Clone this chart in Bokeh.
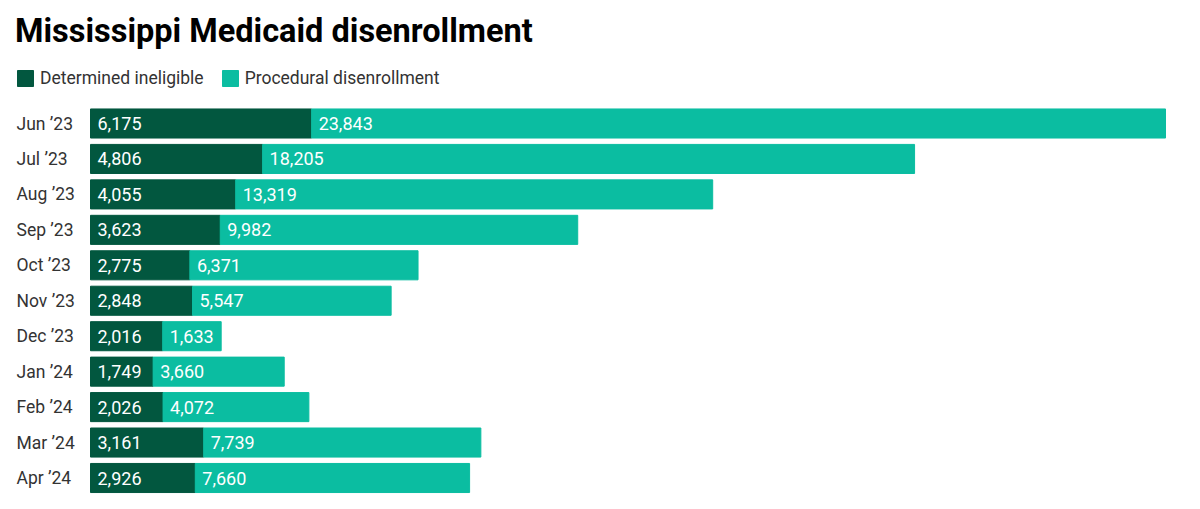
from bokeh.plotting import figure
from bokeh.models import Range1d, Legend, LegendItem, Label
from bokeh.core.properties import value
from bokeh.embed import file_html
from bokeh.resources import INLINE

# data
months = ["Jun ’23", "Jul ’23", "Aug ’23", "Sep ’23", "Oct ’23", "Nov ’23",
          "Dec ’23", "Jan ’24", "Feb ’24", "Mar ’24", "Apr ’24"]
ineligible = [6175, 4806, 4055, 3623, 2775, 2848, 2016, 1749, 2026, 3161, 2926]
procedural = [23843, 18205, 13319, 9982, 6371, 5547, 1633, 3660, 4072, 7739, 7660]

dark = "#02573f"
teal = "#0bbda1"
font = "Roboto"

W, H = 1200, 509
bar_left, bar_right = 90, 1165      # px where 0 and the largest total sit
row_px, top_row_px = 35.45, 123     # row pitch and centre of first row, px

n = len(months)
totals = [a + b for a, b in zip(ineligible, procedural)]
rows = list(range(n - 1, -1, -1))   # first month on top

per_px = max(totals) / (bar_right - bar_left)
x_range = Range1d(-bar_left * per_px, (W - bar_left) * per_px)
y_range = Range1d(n - 1 - (H - top_row_px) / row_px, n - 1 + top_row_px / row_px)

p = figure(width=W, height=H, x_range=x_range, y_range=y_range,
           x_axis_location=None, y_axis_location=None,
           output_backend="svg", toolbar_location=None, min_border=0)

data = dict(row=rows, month=months, ineligible=ineligible, procedural=procedural,
            ineligible_lbl=[f"{v:,}" for v in ineligible],
            procedural_lbl=[f"{v:,}" for v in procedural],
            zero=[0] * n)

r = p.hbar_stack(["ineligible", "procedural"], y="row", height=0.82,
                 color=[dark, teal], source=data)

# month labels, left aligned
p.text(x="zero", y="row", text="month", source=data,
       x_offset=-74, text_baseline="middle", text_align="left",
       text_color="#333333", text_font=value(font), text_font_size="17.5px")

# value labels at the start of each segment
p.text(x="zero", y="row", text="ineligible_lbl", source=data,
       x_offset=7, text_baseline="middle", text_color="white",
       text_font=value(font), text_font_size="18px")
p.text(x="ineligible", y="row", text="procedural_lbl", source=data,
       x_offset=7, text_baseline="middle", text_color="white",
       text_font=value(font), text_font_size="18px")

# title
title = Label(x=14.5, y=H - 30.5, x_units="screen", y_units="screen",
              text="Mississippi Medicaid disenrollment",
              text_font=font, text_font_size="32.5px", text_font_style="bold",
              text_color="black", text_baseline="alphabetic")
p.add_layout(title)

# legend
legend = Legend(items=[LegendItem(label="Determined ineligible", renderers=[r[0]]),
                       LegendItem(label="Procedural disenrollment", renderers=[r[1]])],
                orientation="horizontal", location=(15, H - 88),
                glyph_width=20, glyph_height=20, label_standoff=5, spacing=16,
                padding=0, margin=0, border_line_color=None,
                background_fill_alpha=0,
                label_text_font=font, label_text_font_size="17.5px",
                label_text_color="#333333")
p.add_layout(legend)

p.xgrid.visible = False
p.ygrid.visible = False
p.outline_line_color = None

open("out.html", "w").write(file_html(p, INLINE))
